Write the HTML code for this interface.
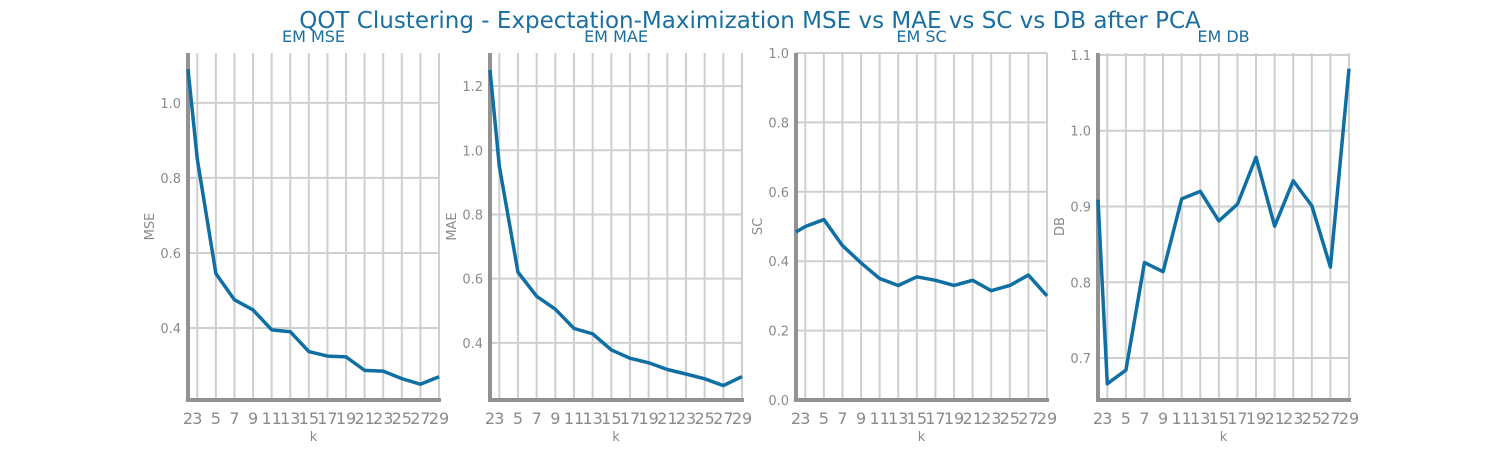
<!DOCTYPE html>
<html><head><meta charset="utf-8"><style>
body{margin:0;background:#fff;width:1500px;height:450px;overflow:hidden;font-family:"Liberation Sans","DejaVu Sans",sans-serif}
</style></head><body>
<svg id="c" width="1500" height="450" font-family="DejaVu Sans, Liberation Sans, sans-serif">
<text x="750" y="28" text-anchor="middle" font-size="23" fill="#1a6ea0">QOT Clustering - Expectation-Maximization MSE vs MAE vs SC vs DB after PCA</text>
</svg>
<script>
const ks=[2,3,5,7,9,11,13,15,17,19,21,23,25,27,29];
const mse=[1.09,0.85,0.545,0.475,0.448,0.395,0.39,0.337,0.325,0.323,0.287,0.285,0.265,0.25,0.27];
const mae=[1.25,0.95,0.62,0.545,0.505,0.445,0.428,0.378,0.352,0.338,0.317,0.303,0.288,0.267,0.295];
const sc=[0.484,0.50,0.52,0.445,0.395,0.35,0.33,0.355,0.345,0.33,0.345,0.315,0.33,0.36,0.30];
const db=[0.909,0.666,0.684,0.826,0.814,0.91,0.92,0.881,0.903,0.965,0.874,0.934,0.901,0.82,1.082];
const mseTicks=[0.4,0.6,0.8,1.0];
const maeTicks=[0.4,0.6,0.8,1.0,1.2];
const scTicks=[0.0,0.2,0.4,0.6,0.8,1.0];
const dbTicks=[0.7,0.8,0.9,1.0,1.1];
const panels=[
 {name:'mse',title:'EM MSE',yl:'MSE',d:mse,t:mseTicks,x0:188,x1:439,ymin:0.208,ymax:1.133,dec:1},
 {name:'mae',title:'EM MAE',yl:'MAE',d:mae,t:maeTicks,x0:490,x1:742,ymin:0.222,ymax:1.303,dec:1},
 {name:'sc',title:'EM SC',yl:'SC',d:sc,t:scTicks,x0:796,x1:1047,ymin:0,ymax:1.0,dec:1},
 {name:'db',title:'EM DB',yl:'DB',d:db,t:dbTicks,x0:1098,x1:1349,ymin:0.6446,ymax:1.1026,dec:1}
];
const svg=document.getElementById('c');const NS='http://www.w3.org/2000/svg';
function mk(tag,a,p){const e=document.createElementNS(NS,tag);for(const k in a)e.setAttribute(k,a[k]);(p||svg).appendChild(e);return e;}
const TOP=53,BOT=400;
panels.forEach(p=>{
 const g=mk('g',{});
 
 
 const X=k=>p.x0+(k-2)/27*(p.x1-p.x0);
 const Y=v=>BOT-(v-p.ymin)/(p.ymax-p.ymin)*(BOT-TOP);
 ks.forEach(k=>{
  const l=mk('line',{x1:X(k),x2:X(k),y1:TOP,y2:BOT,stroke:'#cfcfcf','stroke-width':2},g);
  
  
  const t=mk('text',{x:X(k),y:424,'text-anchor':'middle','font-size':16,fill:'#8a8a8a'},g);
  t.textContent=k;
  
  
 });
 p.t.forEach(v=>{
  const y=Y(v);
  const l=mk('line',{x1:p.x0,x2:p.x1,y1:y,y2:y,stroke:'#cfcfcf','stroke-width':2},g);
  
  
  const t=mk('text',{x:p.x0-7,y:y+5,'text-anchor':'end','font-size':13,fill:'#8a8a8a'},g);
  t.textContent=v.toFixed(p.dec);
  
  
 });
 const s1=mk('line',{x1:p.x0,x2:p.x0,y1:TOP,y2:BOT+2,stroke:'#929292','stroke-width':4},g);
 
 
 const s2=mk('line',{x1:p.x0-2,x2:p.x1+2,y1:BOT,y2:BOT,stroke:'#929292','stroke-width':4},g);
 
 
 const pts=p.d.map((v,i)=>X(ks[i])+','+Y(v)).join(' ');
 const pl=mk('polyline',{points:pts,fill:'none',stroke:'#0f6fa3','stroke-width':3.5,'stroke-linejoin':'round'},g);
 
 
 const tt=mk('text',{x:(p.x0+p.x1)/2,y:42,'text-anchor':'middle','font-size':16,fill:'#1a6ea0'},g);
 tt.textContent=p.title;
 
 
 const xl=mk('text',{x:(p.x0+p.x1)/2,y:441,'text-anchor':'middle','font-size':13,fill:'#8a8a8a'},g);
 xl.textContent='k';
 
 
 const cy=(TOP+BOT)/2;
 const yl=mk('text',{x:p.x0-34,y:cy,'text-anchor':'middle','font-size':13,fill:'#8a8a8a',transform:`rotate(-90 ${p.x0-34} ${cy})`},g);
 yl.textContent=p.yl;
 
 
});
</script>
</body></html>
